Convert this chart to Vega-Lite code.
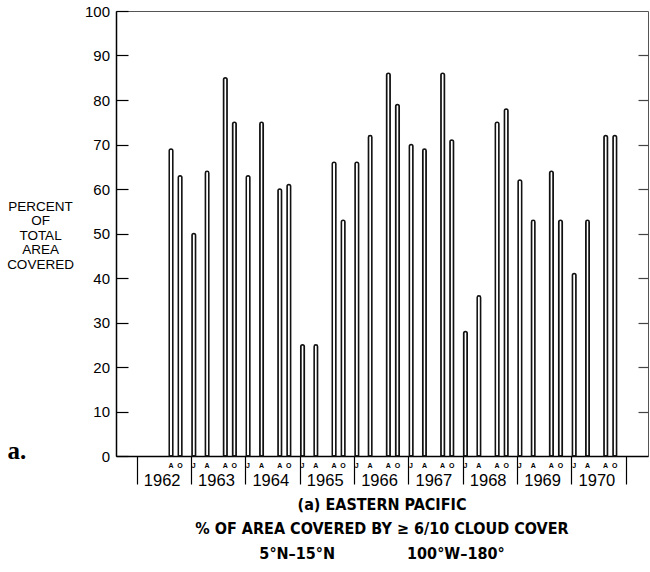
{
  "$schema": "https://vega.github.io/schema/vega-lite/v6.json",
  "width": 532,
  "height": 445,
  "autosize": {"type": "none"},
  "padding": {"left": 116, "top": 11, "right": 2, "bottom": 116},
  "background": "white",
  "config": {
    "view": {"stroke": "#555", "strokeWidth": 1},
    "axis": {
      "grid": false,
      "labelFont": "Liberation Sans",
      "titleFont": "Liberation Sans",
      "labelColor": "#000",
      "titleColor": "#000",
      "domainColor": "#000",
      "tickColor": "#000",
      "labelFlush": false,
      "labelOverlap": false
    }
  },
  "title": {
    "text": [
      "(a) EASTERN PACIFIC\u2003\u2003\u2003",
      "% OF AREA COVERED BY \u2265 6/10 CLOUD COVER",
      "5°N–15°N\u2003\u2003\u2003\u2003\u2003100°W–180°"
    ],
    "orient": "bottom",
    "anchor": "middle",
    "frame": "group",
    "font": "DejaVu Sans Condensed, Liberation Sans Narrow, DejaVu Sans",
    "fontSize": 16,
    "fontWeight": "bold",
    "lineHeight": 24.5,
    "baseline": "top",
    "offset": 8,
    "color": "#000"
  },
  "data": {
    "values": [
      {"month": "1962-08-01", "percent": 69},
      {"month": "1962-10-01", "percent": 63},
      {"month": "1963-01-01", "percent": 50},
      {"month": "1963-04-01", "percent": 64},
      {"month": "1963-08-01", "percent": 85},
      {"month": "1963-10-01", "percent": 75},
      {"month": "1964-01-01", "percent": 63},
      {"month": "1964-04-01", "percent": 75},
      {"month": "1964-08-01", "percent": 60},
      {"month": "1964-10-01", "percent": 61},
      {"month": "1965-01-01", "percent": 25},
      {"month": "1965-04-01", "percent": 25},
      {"month": "1965-08-01", "percent": 66},
      {"month": "1965-10-01", "percent": 53},
      {"month": "1966-01-01", "percent": 66},
      {"month": "1966-04-01", "percent": 72},
      {"month": "1966-08-01", "percent": 86},
      {"month": "1966-10-01", "percent": 79},
      {"month": "1967-01-01", "percent": 70},
      {"month": "1967-04-01", "percent": 69},
      {"month": "1967-08-01", "percent": 86},
      {"month": "1967-10-01", "percent": 71},
      {"month": "1968-01-01", "percent": 28},
      {"month": "1968-04-01", "percent": 36},
      {"month": "1968-08-01", "percent": 75},
      {"month": "1968-10-01", "percent": 78},
      {"month": "1969-01-01", "percent": 62},
      {"month": "1969-04-01", "percent": 53},
      {"month": "1969-08-01", "percent": 64},
      {"month": "1969-10-01", "percent": 53},
      {"month": "1970-01-01", "percent": 41},
      {"month": "1970-04-01", "percent": 53},
      {"month": "1970-08-01", "percent": 72},
      {"month": "1970-10-01", "percent": 72}
    ]
  },
  "layer": [
    {
      "mark": {
        "type": "bar",
        "fill": "white",
        "stroke": "#111",
        "strokeWidth": 1.5,
        "cornerRadiusTopLeft": 2,
        "cornerRadiusTopRight": 2
      },
      "encoding": {
        "x": {
          "field": "month",
          "timeUnit": "utcyearmonth",
          "type": "temporal",
          "scale": {
            "type": "utc",
            "domain": [
              {"year": 1961, "month": 8, "date": 15, "utc": true},
              {"year": 1971, "month": 5, "date": 31, "utc": true}
            ]
          },
          "axis": {
            "orient": "bottom",
            "title": null,
            "values": [
              {"year": 1962, "month": 1, "date": 1, "utc": true},
              {"year": 1963, "month": 1, "date": 1, "utc": true},
              {"year": 1964, "month": 1, "date": 1, "utc": true},
              {"year": 1965, "month": 1, "date": 1, "utc": true},
              {"year": 1966, "month": 1, "date": 1, "utc": true},
              {"year": 1967, "month": 1, "date": 1, "utc": true},
              {"year": 1968, "month": 1, "date": 1, "utc": true},
              {"year": 1969, "month": 1, "date": 1, "utc": true},
              {"year": 1970, "month": 1, "date": 1, "utc": true},
              {"year": 1971, "month": 1, "date": 1, "utc": true}
            ],
            "tickSize": 28,
            "tickWidth": 1.2,
            "domainWidth": 1.5,
            "labelOffset": 25,
            "labelPadding": -12,
            "labelFontSize": 16.5,
            "labelBaseline": "top",
            "labelAlign": "center",
            "labelExpr": "utcFormat(datum.value, '%Y') == '1971' ? '' : utcFormat(datum.value, '%Y')"
          }
        },
        "y": {
          "field": "percent",
          "type": "quantitative",
          "scale": {"domain": [0, 100], "nice": false},
          "axis": {
            "orient": "left",
            "values": [0, 10, 20, 30, 40, 50, 60, 70, 80, 90, 100],
            "tickSize": -12,
            "tickWidth": 1.2,
            "domainWidth": 1.5,
            "labelPadding": 18.5,
            "labelFontSize": 15,
            "title": ["PERCENT", "OF", "TOTAL", "AREA", "COVERED"],
            "titleAngle": 0,
            "titleAlign": "center",
            "titleBaseline": "top",
            "titleX": -76,
            "titleY": 188,
            "titleFontSize": 13.5,
            "titleFontWeight": "normal",
            "titleLineHeight": 14.5
          }
        }
      }
    },
    {
      "mark": {"type": "bar", "opacity": 0},
      "encoding": {
        "x": {
          "field": "month",
          "timeUnit": "utcyearmonth",
          "type": "temporal",
          "axis": {
            "orient": "bottom",
            "domain": false,
            "ticks": false,
            "values": [
              {"year": 1962, "month": 8, "date": 16, "utc": true},
              {"year": 1962, "month": 10, "date": 16, "utc": true},
              {"year": 1963, "month": 1, "date": 16, "utc": true},
              {"year": 1963, "month": 4, "date": 16, "utc": true},
              {"year": 1963, "month": 8, "date": 16, "utc": true},
              {"year": 1963, "month": 10, "date": 16, "utc": true},
              {"year": 1964, "month": 1, "date": 16, "utc": true},
              {"year": 1964, "month": 4, "date": 16, "utc": true},
              {"year": 1964, "month": 8, "date": 16, "utc": true},
              {"year": 1964, "month": 10, "date": 16, "utc": true},
              {"year": 1965, "month": 1, "date": 16, "utc": true},
              {"year": 1965, "month": 4, "date": 16, "utc": true},
              {"year": 1965, "month": 8, "date": 16, "utc": true},
              {"year": 1965, "month": 10, "date": 16, "utc": true},
              {"year": 1966, "month": 1, "date": 16, "utc": true},
              {"year": 1966, "month": 4, "date": 16, "utc": true},
              {"year": 1966, "month": 8, "date": 16, "utc": true},
              {"year": 1966, "month": 10, "date": 16, "utc": true},
              {"year": 1967, "month": 1, "date": 16, "utc": true},
              {"year": 1967, "month": 4, "date": 16, "utc": true},
              {"year": 1967, "month": 8, "date": 16, "utc": true},
              {"year": 1967, "month": 10, "date": 16, "utc": true},
              {"year": 1968, "month": 1, "date": 16, "utc": true},
              {"year": 1968, "month": 4, "date": 16, "utc": true},
              {"year": 1968, "month": 8, "date": 16, "utc": true},
              {"year": 1968, "month": 10, "date": 16, "utc": true},
              {"year": 1969, "month": 1, "date": 16, "utc": true},
              {"year": 1969, "month": 4, "date": 16, "utc": true},
              {"year": 1969, "month": 8, "date": 16, "utc": true},
              {"year": 1969, "month": 10, "date": 16, "utc": true},
              {"year": 1970, "month": 1, "date": 16, "utc": true},
              {"year": 1970, "month": 4, "date": 16, "utc": true},
              {"year": 1970, "month": 8, "date": 16, "utc": true},
              {"year": 1970, "month": 10, "date": 16, "utc": true}
            ],
            "labelExpr": "slice(utcFormat(datum.value, '%b'), 0, 1)",
            "labelFontSize": 7,
            "labelFontWeight": "bold",
            "labelPadding": 5,
            "labelBaseline": "top",
            "labelAlign": "center",
            "title": "a.",
            "titleFont": "Liberation Serif",
            "titleFontSize": 25,
            "titleFontWeight": "bold",
            "titleAngle": 0,
            "titleAlign": "left",
            "titleBaseline": "alphabetic",
            "titleX": -109,
            "titleY": 2
          }
        },
        "y": {
          "field": "percent",
          "type": "quantitative",
          "axis": {
            "orient": "right",
            "values": [10, 20, 30, 40, 50, 60, 70, 80, 90],
            "tickSize": -10,
            "tickWidth": 1.2,
            "tickColor": "#444",
            "labels": false,
            "domain": false,
            "title": null
          }
        }
      }
    }
  ],
  "resolve": {"axis": {"x": "independent", "y": "independent"}}
}
